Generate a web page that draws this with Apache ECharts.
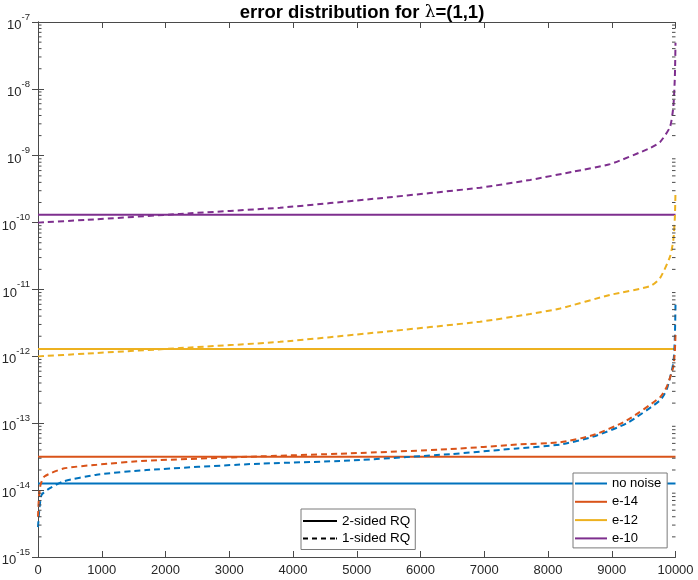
<!DOCTYPE html>
<html>
<head>
<meta charset="utf-8">
<script src="https://cdn.jsdelivr.net/npm/echarts@6/dist/echarts.min.js"></script>
<style>
html,body{margin:0;padding:0;background:#fff;}
#chart{width:698px;height:580px;}
</style>
</head>
<body>
<div id="chart"></div>
<script>
// ---- data ----
const titleText = 'error distribution for ';
const noiseLabels = ['no noise', 'e-14', 'e-12', 'e-10'];
const styleLabels = ['2-sided RQ', '1-sided RQ'];
const colors = ['#0072BD', '#D95319', '#EDB120', '#7E2F8E'];

// 2-sided RQ (solid, constant)
const solidX = [0, 10000];
const solidNoNoise = [1.26e-14, 1.26e-14];
const solidE14 = [3.16e-14, 3.16e-14];
const solidE12 = [1.29e-12, 1.29e-12];
const solidE10 = [1.31e-10, 1.31e-10];

// 1-sided RQ (dashed, sorted distribution)
const dashNoNoiseX = [0, 20, 57, 187, 397, 921, 1705, 3325, 4894, 6463, 7514, 8188, 8711, 9235, 9757, 9862, 9966, 9990, 10000];
const dashNoNoiseY = [2.8e-15, 5e-15, 8.5e-15, 1.07e-14, 1.35e-14, 1.7e-14, 2.0e-14, 2.45e-14, 2.77e-14, 3.45e-14, 4.2e-14, 4.8e-14, 6.3e-14, 1.0e-13, 2.2e-13, 3.2e-13, 8e-13, 2e-12, 5.9e-12];

const dashE14X = [0, 15, 40, 100, 397, 921, 1705, 3325, 4894, 6463, 7514, 8188, 8700, 9235, 9757, 9862, 9966, 9990, 10000];
const dashE14Y = [4e-15, 8e-15, 1.2e-14, 1.6e-14, 2.1e-14, 2.4e-14, 2.75e-14, 3.16e-14, 3.55e-14, 4.1e-14, 4.8e-14, 5.2e-14, 6.6e-14, 1.1e-13, 2.45e-13, 3.5e-13, 7e-13, 1.2e-12, 2.1e-12];

const dashE12X = [0, 764, 2227, 3796, 5365, 6933, 7718, 8188, 8973, 9600, 9757, 9914, 9966, 9990, 10000];
const dashE12Y = [1.0e-12, 1.1e-12, 1.33e-12, 1.65e-12, 2.3e-12, 3.3e-12, 4.3e-12, 5.2e-12, 8.3e-12, 1.12e-11, 1.48e-11, 3.1e-11, 5.5e-11, 1.2e-10, 2.9e-10];

const dashE10X = [0, 764, 2227, 3796, 5365, 6933, 7718, 8392, 8973, 9600, 9757, 9914, 9966, 9990, 10000];
const dashE10Y = [1.0e-10, 1.1e-10, 1.35e-10, 1.67e-10, 2.32e-10, 3.33e-10, 4.35e-10, 5.78e-10, 7.5e-10, 1.3e-9, 1.6e-9, 2.7e-9, 5.4e-9, 1.5e-8, 4.9e-8];

const xMin = 0, xMax = 10000, xStep = 1000;
const yMinExp = -15, yMaxExp = -7;

// ---- build ----
const FONT = '"Liberation Sans", Arial, Helvetica, sans-serif';
const AXIS_COLOR = '#4a4a4a';
const TEXT_COLOR = '#262626';

// legend icons: thin bars (keep aspect so they stay 2px tall)
const ICON_SOLID = 'path://M0,0L32,0L32,2L0,2Z';
const ICON_DASHED = 'path://M0,0h5v2h-5zM9,0h5v2h-5zM18,0h5v2h-5zM27,0h5v2h-5zM33,0h1v2h-1z';

function pairs(xs, ys) { return xs.map((x, i) => [x, ys[i]]); }

const solids = [solidNoNoise, solidE14, solidE12, solidE10];
const dashXs = [dashNoNoiseX, dashE14X, dashE12X, dashE10X];
const dashYs = [dashNoNoiseY, dashE14Y, dashE12Y, dashE10Y];

// minor tick positions for the log axis (2..9 x 10^k)
const minorTicks = [];
for (let k = yMinExp; k < yMaxExp; k++) {
  for (let m = 2; m <= 9; m++) minorTicks.push([0, m * Math.pow(10, k)]);
}

const series = [];
solids.forEach((arr, i) => {
  series.push({
    name: noiseLabels[i], type: 'line', data: pairs(solidX, arr),
    symbol: 'none', lineStyle: { color: colors[i], width: 2, type: 'solid' },
    itemStyle: { color: colors[i] }, z: 3, silent: true
  });
});
dashXs.forEach((xs, i) => {
  series.push({
    name: noiseLabels[i] + ' (1-sided)', type: 'line', data: pairs(xs, dashYs[i]),
    symbol: 'none', smooth: 0.2,
    lineStyle: { color: colors[i], width: 2, type: [6, 4] },
    itemStyle: { color: colors[i] }, z: 4, silent: true
  });
});
// style legend dummies
series.push({ name: styleLabels[0], type: 'line', data: [], symbol: 'none',
  lineStyle: { color: '#000', width: 2, type: 'solid' }, itemStyle: { color: '#000' } });
series.push({ name: styleLabels[1], type: 'line', data: [], symbol: 'none',
  lineStyle: { color: '#000', width: 2, type: [5, 4] }, itemStyle: { color: '#000' } });
// minor ticks on left and right edges
series.push({
  type: 'custom', data: minorTicks, silent: true, z: 10, clip: false,
  renderItem: function (params, api) {
    const v = api.value(1);
    const pL = api.coord([xMin, v]);
    const pR = api.coord([xMax, v]);
    return { type: 'group', children: [
      { type: 'line', shape: { x1: pL[0], y1: pL[1], x2: pL[0] + 3.5, y2: pL[1] }, style: { stroke: AXIS_COLOR, lineWidth: 1 } },
      { type: 'line', shape: { x1: pR[0] - 3.5, y1: pR[1], x2: pR[0], y2: pR[1] }, style: { stroke: AXIS_COLOR, lineWidth: 1 } }
    ]};
  }
});

function yLabel(val) {
  const e = Math.round(Math.log10(val));
  return '{b|10}{s|' + e + '}';
}

const yAxisBase = {
  type: 'log', logBase: 10, min: Math.pow(10, yMinExp), max: Math.pow(10, yMaxExp), splitNumber: 8,
  axisLine: { show: true, lineStyle: { color: AXIS_COLOR, width: 1 } },
  axisTick: { show: true, inside: true, length: 6, lineStyle: { color: AXIS_COLOR } },
  splitLine: { show: false }, minorTick: { show: false }
};
const xAxisBase = {
  type: 'value', min: xMin, max: xMax, interval: xStep,
  axisLine: { show: true, onZero: false, lineStyle: { color: AXIS_COLOR, width: 1 } },
  axisTick: { show: true, inside: true, length: 6, lineStyle: { color: AXIS_COLOR } },
  splitLine: { show: false }
};

const option = {
  animation: false,
  backgroundColor: '#ffffff',
  textStyle: { fontFamily: FONT },
  title: {
    text: '{b|' + titleText + '}{l|λ}{b|=(1,1)}',
    left: 357, top: -2, textAlign: 'center',
    textStyle: {
      rich: {
        b: { fontFamily: FONT, fontWeight: 'bold', fontSize: 18.5, color: '#000' },
        l: { fontFamily: '"DejaVu Serif", serif', fontWeight: 'normal', fontSize: 17, color: '#000' }
      }
    }
  },
  grid: { left: 38, right: 22.5, top: 22, bottom: 23, containLabel: false, outerBoundsMode: 'none' },
  xAxis: [
    Object.assign({}, xAxisBase, {
      position: 'bottom',
      axisLabel: { show: true, color: TEXT_COLOR, fontSize: 13, fontFamily: FONT, margin: 7,
        formatter: function (v) { return String(v); } }
    }),
    Object.assign({}, xAxisBase, { position: 'top', axisLabel: { show: false } })
  ],
  yAxis: [
    Object.assign({}, yAxisBase, {
      position: 'left',
      axisLabel: {
        show: true, margin: 8, formatter: yLabel,
        rich: {
          b: { fontSize: 13, fontFamily: FONT, color: TEXT_COLOR, lineHeight: 20, verticalAlign: 'bottom' },
          s: { fontSize: 9.5, fontFamily: FONT, color: TEXT_COLOR, lineHeight: 20, verticalAlign: 'top' }
        }
      }
    }),
    Object.assign({}, yAxisBase, { position: 'right', axisLabel: { show: false } })
  ],
  legend: [
    {
      orient: 'vertical', left: 573, top: 473,
      data: noiseLabels.map((n, i) => ({ name: n, icon: ICON_SOLID, itemStyle: { color: colors[i] } })),
      itemWidth: 32, itemHeight: 14, itemGap: 5.3, symbolKeepAspect: true,
      padding: [4, 6, 3, 2],
      backgroundColor: '#fff', borderColor: '#7a7a7a', borderWidth: 1,
      textStyle: { fontSize: 13, color: '#000', fontFamily: FONT },
      selectedMode: false
    },
    {
      orient: 'vertical', left: 301, top: 509,
      data: [
        { name: styleLabels[0], icon: ICON_SOLID, itemStyle: { color: '#000' } },
        { name: styleLabels[1], icon: ICON_DASHED, itemStyle: { color: '#000' } }
      ],
      itemWidth: 34, itemHeight: 14, itemGap: 3.5, symbolKeepAspect: true,
      padding: [5, 5, 4, 2],
      backgroundColor: '#fff', borderColor: '#7a7a7a', borderWidth: 1,
      textStyle: { fontSize: 13.5, color: '#000', fontFamily: FONT },
      selectedMode: false
    }
  ],
  series: series
};

const chart = echarts.init(document.getElementById('chart'), null, { renderer: 'canvas' });
chart.setOption(option);
</script>
</body>
</html>
